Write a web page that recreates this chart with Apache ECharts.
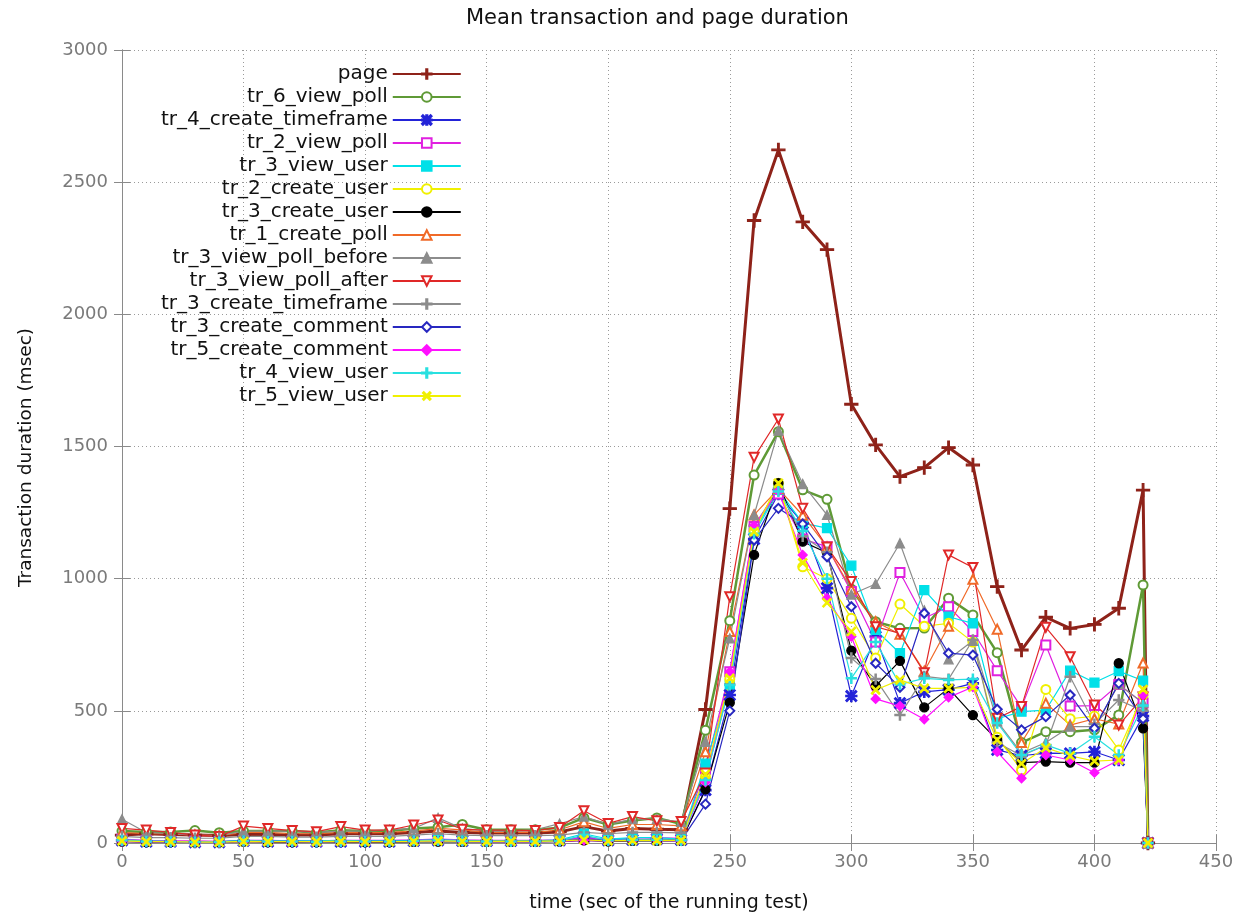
<!DOCTYPE html>
<html>
<head>
<meta charset="utf-8">
<script src="https://cdn.jsdelivr.net/npm/echarts@6/dist/echarts.min.js"></script>
<style>html,body{margin:0;padding:0;background:#fff}#chart{width:1247px;height:915px}</style>
</head>
<body>
<div id="chart"></div>
<script>
const times = [0,10,20,30,40,50,60,70,80,90,100,110,120,130,140,150,160,170,180,190,200,210,220,230,240,250,260,270,280,290,300,310,320,330,340,350,360,370,380,390,400,410,420,422];
const xTicks = [0,50,100,150,200,250,300,350,400,450];
const yTicks = [0,500,1000,1500,2000,2500,3000];

const page = [30,35,32,30,28,32,32,30,30,35,35,35,40,45,40,38,38,38,42,62,45,55,52,50, 505,1265,2355,2622,2350,2245,1660,1506,1386,1420,1496,1430,970,730,854,812,827,888,1335,0];
const tr_6_view_poll = [45,42,42,47,39,45,45,45,40,48,45,45,55,60,70,50,50,50,58,95,70,85,95,72, 427,841,1392,1556,1336,1300,960,837,812,813,926,863,720,380,421,421,428,484,976,0];
const tr_4_create_timeframe = [10,5,5,3,3,8,5,5,5,5,5,5,8,10,8,8,8,8,10,22,10,12,15,12, 200,560,1150,1320,1210,964,556,781,529,572,580,604,352,330,340,339,345,314,480,0];
const tr_2_view_poll = [15,10,8,8,6,10,10,8,8,10,10,10,12,15,12,10,10,10,12,20,15,18,20,18, 280,648,1197,1320,1150,1121,951,760,1023,850,894,800,652,513,749,518,520,600,530,0];
const tr_3_view_user = [12,8,6,5,5,10,8,8,8,10,8,8,10,12,10,8,8,8,12,35,15,20,20,15, 300,600,1180,1336,1210,1191,1049,806,718,957,856,831,470,497,503,652,607,650,614,0];
const tr_2_create_user = [8,5,5,3,3,6,5,5,5,6,5,5,6,8,6,6,6,6,8,12,8,10,10,10, 250,620,1178,1361,1045,1000,850,700,904,820,831,760,400,276,581,470,480,352,560,0];
const tr_3_create_user = [5,3,3,2,2,5,3,3,3,4,3,3,4,5,4,4,4,4,5,10,6,8,8,8, 203,531,1090,1361,1140,1098,728,594,689,513,585,484,390,304,308,304,304,680,434,0];
const tr_1_create_poll = [40,35,35,30,28,40,40,35,35,40,38,40,45,55,50,40,40,40,50,80,55,70,70,65, 345,800,1241,1340,1240,1120,960,837,790,650,820,998,809,380,529,446,470,450,681,0];
const tr_3_view_poll_before = [90,40,35,30,28,45,45,45,40,45,45,50,55,95,55,45,45,50,73,100,70,90,90,80, 383,774,1241,1560,1358,1241,940,980,1134,880,695,765,460,340,380,440,440,600,530,0];
const tr_3_view_poll_after = [55,49,40,30,25,64,55,47,43,62,49,49,68,87,52,49,49,47,59,122,74,100,84,81, 265,932,1459,1604,1266,1120,989,818,793,644,1090,1042,472,516,816,705,522,446,552,0];
const tr_3_create_timeframe = [25,20,20,18,18,25,25,22,22,25,25,25,30,35,30,28,28,28,30,40,35,40,40,38, 240,600,1200,1340,1160,1100,700,620,484,630,620,768,380,330,370,629,450,541,500,0];
const tr_3_create_comment = [8,5,5,4,4,8,6,6,5,6,6,6,8,10,8,6,6,6,8,15,10,12,12,10, 147,500,1146,1266,1207,1083,894,680,589,869,718,711,506,428,478,560,434,604,470,0];
const tr_5_create_comment = [6,4,4,3,3,6,5,5,4,5,5,5,6,8,6,5,5,5,6,10,8,10,10,8, 230,648,1200,1330,1090,926,781,545,518,468,551,590,345,245,333,314,266,314,560,0];
const tr_4_view_user = [10,6,5,4,4,8,6,6,5,6,6,6,8,10,8,6,6,6,8,30,10,12,12,10, 238,598,1170,1330,1180,1000,623,760,600,623,617,620,454,333,371,339,402,333,520,0];
const tr_5_view_user = [8,5,5,3,3,6,5,5,5,6,5,5,6,8,6,6,6,6,8,12,8,10,10,10, 260,623,1178,1361,1060,909,800,579,617,585,585,589,390,300,360,330,310,314,581,0];

const PLUS = 'path://M4.4,0H5.6V4.4H10V5.6H5.6V10H4.4V5.6H0V4.4H4.4Z';
const STAR = 'path://M4.4,0H5.6V10H4.4Z M0,4.4H10V5.6H0Z M1,0L5,4L9,0L10,1L6,5L10,9L9,10L5,6L1,10L0,9L4,5L0,1Z';

const seriesDefs = [
  {name:'page', data:page, color:'#8e2219', lw:3, symbol:PLUS, size:13},
  {name:'tr_6_view_poll', data:tr_6_view_poll, color:'#5f9a36', lw:2.5, symbol:'emptyCircle', size:9},
  {name:'tr_4_create_timeframe', data:tr_4_create_timeframe, color:'#2323d8', lw:1.2, symbol:STAR, size:11},
  {name:'tr_2_view_poll', data:tr_2_view_poll, color:'#e020e0', lw:1.2, symbol:'emptyRect', size:9},
  {name:'tr_3_view_user', data:tr_3_view_user, color:'#00e0e8', lw:1.2, symbol:'rect', size:9},
  {name:'tr_2_create_user', data:tr_2_create_user, color:'#f0f000', lw:1.2, symbol:'emptyCircle', size:9},
  {name:'tr_3_create_user', data:tr_3_create_user, color:'#000000', lw:1.2, symbol:'circle', size:9},
  {name:'tr_1_create_poll', data:tr_1_create_poll, color:'#f06a28', lw:1.2, symbol:'emptyTriangle', size:9},
  {name:'tr_3_view_poll_before', data:tr_3_view_poll_before, color:'#8c8c8c', lw:1.2, symbol:'triangle', size:9},
  {name:'tr_3_view_poll_after', data:tr_3_view_poll_after, color:'#e02828', lw:1.2, symbol:'emptyTriangle', size:9, rotate:180},
  {name:'tr_3_create_timeframe', data:tr_3_create_timeframe, color:'#8c8c8c', lw:1.2, symbol:PLUS, size:10},
  {name:'tr_3_create_comment', data:tr_3_create_comment, color:'#2828c0', lw:1.2, symbol:'emptyDiamond', size:9},
  {name:'tr_5_create_comment', data:tr_5_create_comment, color:'#ff10ff', lw:1.2, symbol:'diamond', size:9},
  {name:'tr_4_view_user', data:tr_4_view_user, color:'#28e0e0', lw:1.2, symbol:PLUS, size:10},
  {name:'tr_5_view_user', data:tr_5_view_user, color:'#f0f000', lw:1.2, symbol:PLUS, size:11, rotate:45}
];

const series = seriesDefs.map(d => ({
  name: d.name,
  type: 'line',
  xAxisIndex: 0,
  yAxisIndex: 0,
  data: times.map((t, i) => [t, d.data[i]]),
  symbol: d.symbol,
  symbolSize: d.size,
  symbolRotate: d.rotate || 0,
  showAllSymbol: true,
  animation: false,
  lineStyle: {color: d.color, width: d.lw},
  itemStyle: {color: d.color, borderColor: d.color, borderWidth: 1.3},
  emphasis: {disabled: true}
}));

const axisGray = '#8a8a8a';
const labelStyle = {color: '#7a7a7a', fontSize: 18, fontFamily: 'DejaVu Sans'};
const gridLine = {show: true, lineStyle: {color: '#9a9a9a', type: [1, 3], width: 1}};

const chart = echarts.init(document.getElementById('chart'), null, {renderer: 'canvas'});
chart.setOption({
  backgroundColor: '#fff',
  animation: false,
  title: {
    text: 'Mean transaction and page duration',
    left: 461, top: 3,
    textStyle: {fontFamily: 'DejaVu Sans', fontSize: 21, fontWeight: 'normal', color: '#111'}
  },
  legend: {
    orient: 'vertical',
    align: 'right',
    left: 156, top: 59,
    itemGap: 3,
    itemWidth: 68,
    itemHeight: 12,
    textStyle: {fontFamily: 'DejaVu Sans', fontSize: 20, color: '#111'},
    data: seriesDefs.map(d => d.name)
  },
  grid: {left: 122, right: 31, top: 50, bottom: 72, show: false, containLabel: false, outerBoundsMode: 'none'},
  xAxis: [
    {type: 'value', min: 0, max: 450, interval: 50, position: 'bottom',
     name: 'time (sec of the running test)', nameLocation: 'middle', nameGap: 51,
     nameTextStyle: {fontFamily: 'DejaVu Sans', fontSize: 19, color: '#111'},
     axisLine: {show: true, lineStyle: {color: axisGray}},
     axisTick: {show: true, inside: true, length: 8, lineStyle: {color: axisGray}},
     axisLabel: Object.assign({margin: 10, formatter: v => xTicks.includes(v) ? String(v) : ''}, labelStyle),
     splitLine: gridLine},
    {type: 'value', min: 0, max: 450, interval: 50, position: 'top',
     axisLine: {show: true, lineStyle: {color: axisGray}},
     axisTick: {show: true, inside: true, length: 8, lineStyle: {color: axisGray}},
     axisLabel: {show: false}, splitLine: {show: false}}
  ],
  yAxis: [
    {type: 'value', min: 0, max: 3000, interval: 500, position: 'left',
     name: 'Transaction duration (msec)', nameLocation: 'middle', nameGap: 86,
     nameTextStyle: {fontFamily: 'DejaVu Sans', fontSize: 18.5, color: '#111', padding: [0, 22, 0, 0]},
     axisLine: {show: true, lineStyle: {color: axisGray}},
     axisTick: {show: true, inside: true, length: 8, lineStyle: {color: axisGray}},
     axisLabel: Object.assign({margin: 14, formatter: v => yTicks.includes(v) ? String(v) : ''}, labelStyle),
     splitLine: gridLine},
    {type: 'value', min: 0, max: 3000, interval: 500, position: 'right',
     axisLine: {show: true, lineStyle: {color: axisGray}},
     axisTick: {show: true, inside: true, length: 8, lineStyle: {color: axisGray}},
     axisLabel: {show: false}, splitLine: {show: false}}
  ],
  series: series
});
</script>
</body>
</html>
